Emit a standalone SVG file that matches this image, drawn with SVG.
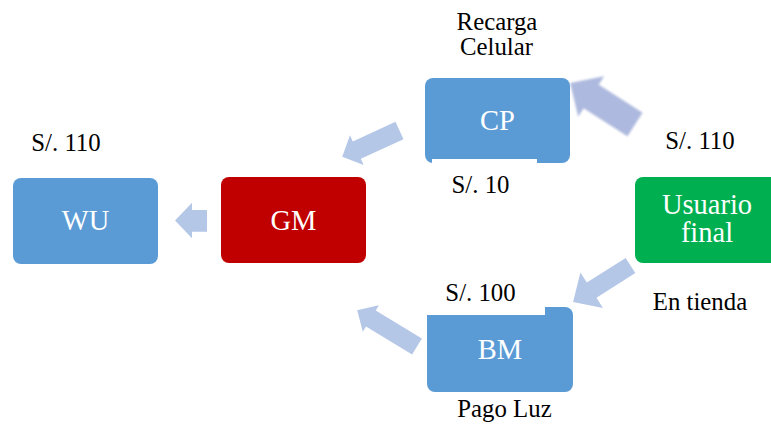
<svg xmlns="http://www.w3.org/2000/svg" width="771" height="436" viewBox="0 0 771 436">
  <defs>
    <style>
      .node-text { font-family: "Liberation Serif", "Times New Roman", serif; font-size: 28.5px; fill: #ffffff; text-anchor: middle; }
      .label { font-family: "Liberation Serif", "Times New Roman", serif; font-size: 24.8px; fill: #000000; text-anchor: middle; }
      .blue { fill: #5b9bd5; }
      .red { fill: #c00000; }
      .green { fill: #00b050; }
      .flow { fill: #b4c7e7; }
      .flow-alt { fill: #adb9de; }
      .label-bg { fill: #ffffff; }
    </style>
    <filter id="soft" x="-20%" y="-20%" width="140%" height="140%">
      <feGaussianBlur stdDeviation="0.9"/>
    </filter>
  </defs>
  <rect width="771" height="436" fill="#ffffff"/>

  <!-- block arrows: drawn pointing along +x, then placed at the tail and rotated -->
  <g id="connectors">
    <!-- Usuario final -> CP -->
    <polygon class="flow-alt" filter="url(#soft)" transform="translate(635,124.5) rotate(212.6)"
             points="0,-14 52,-14 52,-24 77,0 52,24 52,14 0,14"/>
    <!-- CP -> GM -->
    <polygon class="flow" transform="translate(399.5,130.5) rotate(155.3)"
             points="0,-9.6 47,-9.6 47,-16.3 63,0 47,16.3 47,9.6 0,9.6"/>
    <!-- Usuario final -> BM -->
    <polygon class="flow" transform="translate(630.5,265.5) rotate(147.6)"
             points="0,-9 46,-9 46,-21 68,0 46,21 46,9 0,9"/>
    <!-- BM -> GM -->
    <polygon class="flow" transform="translate(417,346.5) rotate(211.3)"
             points="0,-9.4 54,-9.4 54,-15.5 70,0 54,15.5 54,9.4 0,9.4"/>
    <!-- GM -> WU -->
    <polygon class="flow" points="207,210 192,210 192,202.7 175,220.5 192,238.3 192,231.7 207,231.7"/>
  </g>

  <g id="node-wu">
    <rect class="blue" x="13" y="178" width="145" height="86" rx="8"/>
    <text class="node-text" x="85.5" y="230">WU</text>
  </g>

  <g id="node-gm">
    <rect class="red" x="221" y="177" width="145" height="86" rx="8"/>
    <text class="node-text" x="293.5" y="229.5">GM</text>
  </g>

  <g id="node-cp">
    <rect class="blue" x="425" y="78" width="145" height="85" rx="8"/>
    <text class="node-text" x="497.5" y="130">CP</text>
  </g>

  <g id="node-bm">
    <rect class="blue" x="427" y="307" width="146" height="85" rx="8"/>
    <text class="node-text" x="500" y="358.5">BM</text>
  </g>

  <g id="node-usuario">
    <rect class="green" x="635" y="177" width="150" height="86" rx="8"/>
    <text class="node-text" x="707" y="214">Usuario</text>
    <text class="node-text" x="707" y="242">final</text>
  </g>

  <!-- labels (amount boxes have an opaque white fill) -->
  <g id="labels">
    <text class="label" x="66" y="151">S/. 110</text>
    <text class="label" x="700" y="149">S/. 110</text>
    <text class="label" x="497" y="30">Recarga</text>
    <text class="label" x="496.5" y="55">Celular</text>
    <rect class="label-bg" x="432" y="159" width="105" height="40"/>
    <text class="label" x="480.5" y="193">S/. 10</text>
    <rect class="label-bg" x="422" y="280" width="123" height="35"/>
    <text class="label" x="480.5" y="301">S/. 100</text>
    <text class="label" x="700" y="310">En tienda</text>
    <text class="label" x="504.5" y="417">Pago Luz</text>
  </g>
</svg>
